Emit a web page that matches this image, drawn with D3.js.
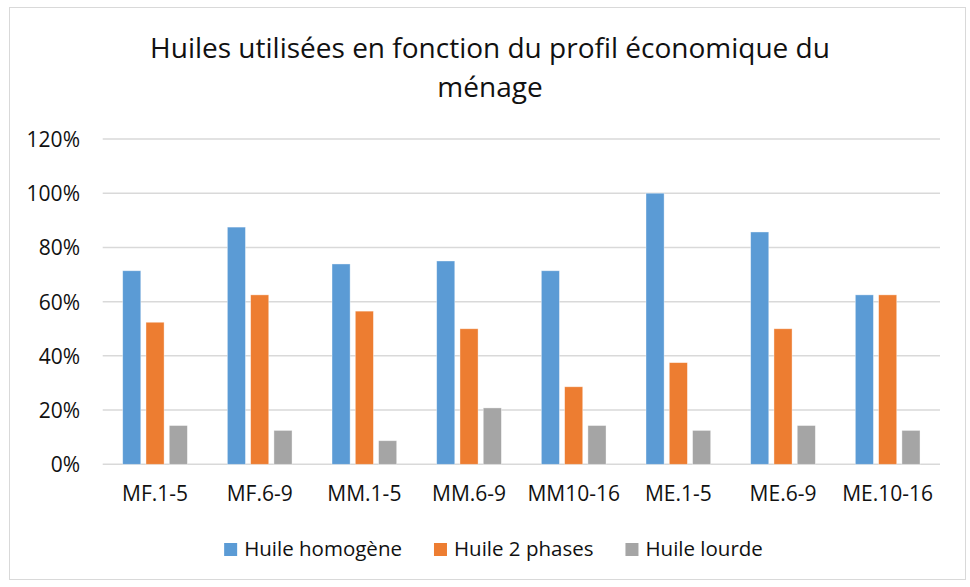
<!DOCTYPE html>
<html>
<head>
<meta charset="utf-8">
<script src="https://cdn.jsdelivr.net/npm/d3@7"></script>
<style>
  body { margin: 0; background: #fff; }
  text { font-family: "Open Sans", Lato, sans-serif; fill: #111; }
</style>
</head>
<body>
<div id="chart"></div>
<script>
var categories = ['MF.1-5', 'MF.6-9', 'MM.1-5', 'MM.6-9', 'MM10-16', 'ME.1-5', 'ME.6-9', 'ME.10-16'];
var seriesNames = ['Huile homogène', 'Huile 2 phases', 'Huile lourde'];
var homogene = [71.4, 87.5, 73.9, 75, 71.4, 100, 85.7, 62.5];
var deuxPhases = [52.4, 62.5, 56.5, 50, 28.6, 37.5, 50, 62.5];
var lourde = [14.3, 12.5, 8.7, 20.8, 14.3, 12.5, 14.3, 12.5];
var yTicks = [0, 20, 40, 60, 80, 100, 120];
var colors = ['#5B9BD5', '#ED7D31', '#A5A5A5'];

var allSeries = [homogene, deuxPhases, lourde];

var width = 970, height = 587;
var svg = d3.select('#chart').append('svg')
            .attr('width', width)
            .attr('height', height);

// chart frame
svg.append('rect')
   .attr('x', 9.5).attr('y', 7.5)
   .attr('width', 956).attr('height', 572)
   .attr('fill', '#fff')
   .attr('stroke', '#D9D9D9');

// title
var title = svg.append('text')
               .attr('text-anchor', 'middle')
               .style('font-size', '28px');
title.append('tspan').attr('x', 490).attr('y', 58).text('Huiles utilisées en fonction du profil économique du');
title.append('tspan').attr('x', 490).attr('y', 97).text('ménage');

var x0 = d3.scaleBand()
           .domain(categories)
           .range([102.7, 940])
           .paddingInner(0.382)
           .paddingOuter(0.191);

var x1 = d3.scaleBand()
           .domain(d3.range(3))
           .range([0, x0.bandwidth()])
           .paddingInner(0.223);

var y = d3.scaleLinear().domain([0, 120]).range([464.3, 139]);

// gridlines
svg.append('g').selectAll('line')
   .data(yTicks)
   .enter()
   .append('line')
   .attr('x1', 102.7).attr('x2', 940)
   .attr('y1', function(d) { return y(d); })
   .attr('y2', function(d) { return y(d); })
   .attr('stroke', '#D9D9D9')
   .attr('stroke-width', 1.5);

// y labels
var yAxis = d3.axisLeft(y)
              .tickValues(yTicks)
              .tickSize(0)
              .tickPadding(0)
              .tickFormat(function(d) { return d + '%'; });
var gy = svg.append('g').attr('transform', 'translate(80,0)').call(yAxis);
gy.select('.domain').remove();
gy.selectAll('text').style('font-size', '21px').style('font-family', '"Open Sans", sans-serif').attr('fill', '#111').attr('dy', '0.36em');

// bars
var groups = svg.append('g').selectAll('g')
                .data(categories)
                .enter()
                .append('g')
                .attr('transform', function(d) { return 'translate(' + x0(d) + ',0)'; });

groups.selectAll('rect')
      .data(function(d, i) { return allSeries.map(function(s, k) { return {k: k, v: s[i]}; }); })
      .enter()
      .append('rect')
      .attr('x', function(d) { return x1(d.k); })
      .attr('width', x1.bandwidth())
      .attr('y', function(d) { return y(d.v); })
      .attr('height', function(d) { return y(0) - y(d.v); })
      .attr('fill', function(d) { return colors[d.k]; })
      .attr('stroke', '#fff')
      .attr('stroke-opacity', 0.5)
      .attr('stroke-width', 0.75);

// x labels
var xAxis = d3.axisBottom(x0).tickSize(0).tickPadding(0);
var gx = svg.append('g').attr('transform', 'translate(0,501)').call(xAxis);
gx.select('.domain').remove();
gx.selectAll('text').style('font-size', '21px').style('font-family', '"Open Sans", sans-serif').attr('fill', '#111').attr('dy', 0);

// legend, laid out from measured text widths and centred
var legend = svg.append('g');
var items = legend.selectAll('g')
                  .data(seriesNames)
                  .enter()
                  .append('g');
items.append('rect')
     .attr('y', 543)
     .attr('width', 13).attr('height', 13)
     .attr('fill', function(d, i) { return colors[i]; });
items.append('text')
     .attr('x', 20).attr('y', 556)
     .style('font-size', '20.5px')
     .text(function(d) { return d; });

var pos = 0;
items.each(function() {
  var w = d3.select(this).select('text').node().getComputedTextLength();
  d3.select(this).attr('transform', 'translate(' + pos + ',0)');
  pos += 20 + w + 32;
});
pos -= 32;
legend.attr('transform', 'translate(' + (493.5 - pos / 2) + ',0)');
</script>
</body>
</html>
